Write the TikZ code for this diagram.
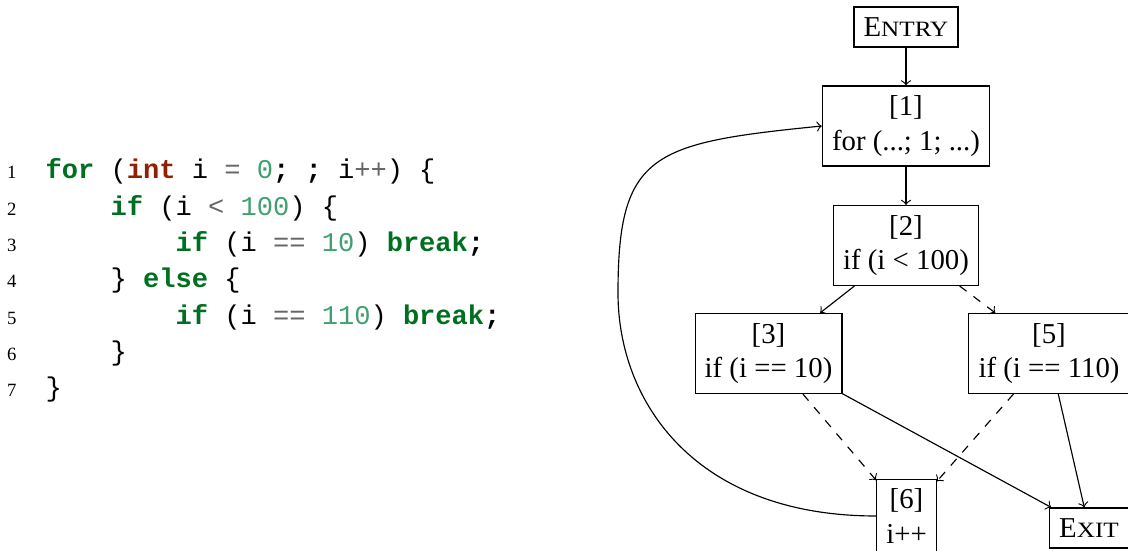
\documentclass[tikz,border=0pt]{standalone}
\usepackage{fontspec}
\setmainfont{Liberation Serif}
\setmonofont{Liberation Mono}
\newfontfamily\scfont[FakeStretch=1.15]{Liberation Serif}
\usetikzlibrary{arrows}

% colours of the code listing
\definecolor{kwgreen}{HTML}{007020}
\definecolor{typered}{HTML}{902000}
\definecolor{numgreen}{HTML}{40A070}
\definecolor{opgray}{HTML}{666666}

\newcommand\kw[1]{{\bfseries\color{kwgreen}#1}}
\newcommand\kt[1]{{\bfseries\color{typered}#1}}
\newcommand\nm[1]{{\color{numgreen}#1}}
\newcommand\op[1]{{\color{opgray}#1}}
\newcommand\semi{{\bfseries;}}
% small capitals built from two sizes of the roman face
\newcommand\fsc[2]{#1{\scfont\fontsize{7.6}{9}\selectfont #2}}

\begin{document}
\begin{tikzpicture}[x=0.3472pt,y=-0.3472pt,
  block/.style={draw, align=center, inner sep=3.33pt, font=\fontsize{10}{12}\selectfont},
  term/.style={block, minimum height=13.9pt},
  codeline/.style={anchor=base west, inner sep=0pt, font=\ttfamily\fontsize{9.4}{12}\selectfont},
  lineno/.style={anchor=base east, inner sep=0pt, font=\fontsize{6.5}{8}\selectfont},
  flow/.style={->, line width=0.4pt},
  alt/.style={flow, dashed}]
\useasboundingbox (0,0) rectangle (1128,551);
\clip (0,0) rectangle (1128,551);

% source listing
\foreach \k/\yy in {1/179,2/215.3,3/251.6,4/287.9,5/324.2,6/360.5,7/396.8}
  \node[lineno] (ln\k) at (17,\yy) {\k};
\node[codeline] (c1) at (45,179)   {\kw{for} (\kt{int} i \op{=} \nm{0}\semi{} \semi{} i\op{++}) \{};
\node[codeline] (c2) at (45,215.3) {\ \ \ \ \kw{if} (i \op{<} \nm{100}) \{};
\node[codeline] (c3) at (45,251.6) {\ \ \ \ \ \ \ \ \kw{if} (i \op{==} \nm{10}) \kw{break}\semi};
\node[codeline] (c4) at (45,287.9) {\ \ \ \ \} \kw{else} \{};
\node[codeline] (c5) at (45,324.2) {\ \ \ \ \ \ \ \ \kw{if} (i \op{==} \nm{110}) \kw{break}\semi};
\node[codeline] (c6) at (45,360.5) {\ \ \ \ \}};
\node[codeline] (c7) at (45,396.8) {\}};

% control flow graph
\node[term]  (entry) at (906,27)      {\fsc{E}{NTRY}};
\node[block] (n1)    at (906,126)     {[1]\\for (...; 1; ...)};
\node[block] (n2)    at (906,245.5)   {[2]\\if (i < 100)};
\node[block] (n3)    at (768.5,353.5) {[3]\\if (i == 10)};
\node[block] (n5)    at (1049,353.5)  {[5]\\if (i == 110)};
\node[block] (n6)    at (906.5,516)   {[6]\\i++};
\node[term]  (exit)  at (1089,528)    {\fsc{E}{XIT}};
\coordinate (loopl) at (618,293);

\draw[flow] (entry) -- (n1);
\draw[flow] (n1) -- (n2);
\draw[flow] (n2) -- (n3);
\draw[alt]  (n2) -- (n5);
\draw[alt]  (n3) -- (n6);
\draw[alt]  (n5) -- (n6);
\draw[flow] (n3) -- (exit);
\draw[flow] (n5) -- (exit);
\draw[flow] (n6.west) .. controls (696,516) and (618,403) .. (loopl)
            .. controls (618,153) and (652,143) .. (n1.west);
\end{tikzpicture}
\end{document}
